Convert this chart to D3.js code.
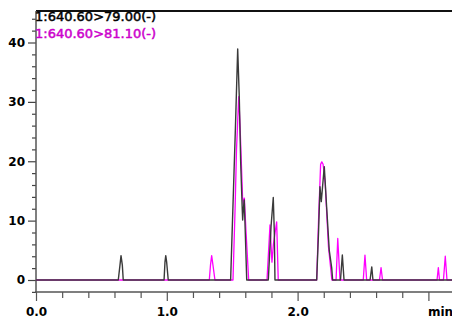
<!DOCTYPE html>
<html>
<head>
<meta charset="utf-8">
<script src="https://cdn.jsdelivr.net/npm/d3@7"></script>
<style>
  html, body { margin: 0; padding: 0; background: #fff; }
  svg { display: block; }
</style>
</head>
<body>
<svg id="chart" width="452" height="322"></svg>
<script>
// ---- Data ----
const legendLabels = ["1:640.60>79.00(-)", "1:640.60>81.10(-)"];
const xTickLabels = ["0.0", "1.0", "2.0"];
const xUnitLabel = "min";
const yTickLabels = [0, 10, 20, 30, 40];

// Trace 1 (black): 640.60 > 79.00
const blackTimes = [0.000,
  0.629, 0.642, 0.650, 0.660, 0.667,
  0.979, 0.986, 0.992, 0.999, 1.011,
  1.488, 1.508, 1.524, 1.542, 1.554, 1.565, 1.577, 1.580, 1.586, 1.592, 1.600, 1.611,
  1.776, 1.797, 1.814, 1.822, 1.827,
  2.146, 2.160, 2.171, 2.181, 2.204, 2.222, 2.242, 2.261, 2.268,
  2.328, 2.342, 2.355,
  2.554, 2.567, 2.576,
  3.200];
const blackValues = [0,
  0, 2.5, 4.1, 2.5, 0,
  0, 3.0, 4.1, 3.0, 0,
  0, 14.0, 25.2, 38.9, 30.9, 19.7, 11.8, 10.1, 12.0, 13.5, 8.0, 0,
  0, 9.0, 13.9, 8.0, 0,
  0, 8.0, 15.7, 13.2, 19.1, 12.3, 5.0, 2.0, 0,
  0, 4.2, 0,
  0, 2.2, 0,
  0];

// Trace 2 (magenta): 640.60 > 81.10
const magentaTimes = [0.000,
  1.325, 1.334, 1.343, 1.353, 1.368,
  1.506, 1.522, 1.533, 1.550, 1.560, 1.570, 1.579, 1.587, 1.593, 1.606, 1.626,
  1.766, 1.789, 1.804, 1.815, 1.840, 1.852,
  2.146, 2.160, 2.176, 2.185, 2.195, 2.211, 2.224, 2.236, 2.262,
  2.294, 2.307, 2.324,
  2.502, 2.515, 2.528,
  2.626, 2.638, 2.649,
  3.066, 3.076, 3.085,
  3.115, 3.129, 3.142,
  3.200];
const magentaValues = [0,
  0, 2.5, 4.1, 2.5, 0,
  0, 12.0, 22.0, 30.9, 26.0, 19.7, 14.0, 12.5, 13.8, 8.0, 0,
  0, 9.3, 3.0, 6.0, 9.8, 0,
  0, 10.0, 19.5, 19.9, 19.5, 16.3, 10.7, 5.6, 0,
  0, 7.0, 0,
  0, 4.2, 0,
  0, 2.1, 0,
  0, 2.1, 0,
  0, 4.0, 0,
  0];

// ---- Layout ----
const svg = d3.select("#chart");
const W = 452, H = 322;
const x = d3.scaleLinear().domain([0, 3]).range([36, 428.4]);
const y = d3.scaleLinear().domain([0, 40]).range([280, 42.5]);
const plotTop = 11, plotBottom = 292, plotLeft = 36, plotRight = W;

const font = "DejaVu Sans, Arial, sans-serif";

// clip
svg.append("defs").append("clipPath").attr("id", "clip")
  .append("rect").attr("x", plotLeft).attr("y", plotTop)
  .attr("width", plotRight - plotLeft).attr("height", plotBottom - plotTop);

// top border
svg.append("line").attr("x1", plotLeft).attr("x2", plotRight)
  .attr("y1", plotTop).attr("y2", plotTop)
  .attr("stroke", "#111").attr("stroke-width", 2);

// ---- Y axis ----
const yMinor = d3.range(-2, 45, 2).filter(v => v % 10 !== 0);
const yAxisMajor = d3.axisLeft(y).tickValues(yTickLabels).tickSize(8).tickPadding(3)
  .tickFormat(d3.format("d"));
const yAxisMinor = d3.axisLeft(y).tickValues(yMinor).tickSize(4).tickFormat("");

const gyMinor = svg.append("g").attr("transform", `translate(${plotLeft},0)`).call(yAxisMinor);
const gy = svg.append("g").attr("transform", `translate(${plotLeft},0)`).call(yAxisMajor);
[gy, gyMinor].forEach(g => {
  g.select(".domain").remove();
  g.selectAll(".tick line").attr("stroke", "#444").attr("stroke-width", 1.2);
});
gy.selectAll(".tick text")
  .attr("font-family", font).attr("font-weight", "bold").attr("font-size", 12)
  .attr("fill", "#000").attr("x", -11);
// y axis line
svg.append("line").attr("x1", plotLeft).attr("x2", plotLeft)
  .attr("y1", plotTop).attr("y2", plotBottom)
  .attr("stroke", "#555").attr("stroke-width", 1.5);

// ---- X axis ----
const xMajor = [0, 1, 2, 3];
const xMinor = d3.range(0.2, 3.19, 0.2).filter(v => Math.abs(v - Math.round(v)) > 1e-6);
const xAxisMajor = d3.axisBottom(x).tickValues(xMajor).tickSize(9)
  .tickFormat((d, i) => i < xTickLabels.length ? xTickLabels[i] : "");
const xAxisMinor = d3.axisBottom(x).tickValues(xMinor).tickSize(6).tickFormat("");
const gxMinor = svg.append("g").attr("transform", `translate(0,${plotBottom})`).call(xAxisMinor);
const gx = svg.append("g").attr("transform", `translate(0,${plotBottom})`).call(xAxisMajor);
[gx, gxMinor].forEach(g => {
  g.select(".domain").remove();
  g.selectAll(".tick line").attr("stroke", "#555").attr("stroke-width", 1.2);
});
gx.selectAll(".tick text")
  .attr("font-family", font).attr("font-weight", "bold").attr("font-size", 12)
  .attr("fill", "#000").attr("y", 15).attr("dy", "0.71em");
svg.append("line").attr("x1", plotLeft - 1).attr("x2", plotRight)
  .attr("y1", plotBottom).attr("y2", plotBottom)
  .attr("stroke", "#555").attr("stroke-width", 1.5);
svg.append("text").attr("x", x(3) - 0.5).attr("y", 316)
  .attr("font-family", font).attr("font-weight", "bold").attr("font-size", 12)
  .attr("fill", "#000").text(xUnitLabel);

// ---- Traces ----
const line = d3.line().x(d => x(d[0])).y(d => y(d[1]));
const magenta = magentaTimes.map((t, i) => [t, magentaValues[i]]);
const black = blackTimes.map((t, i) => [t, blackValues[i]]);
const traces = svg.append("g").attr("clip-path", "url(#clip)");
traces.append("path").datum(magenta).attr("d", line)
  .attr("fill", "none").attr("stroke", "#ff00ff").attr("stroke-width", 1.3)
  .attr("stroke-linejoin", "round");
traces.append("path").datum(black).attr("d", line)
  .attr("fill", "none").attr("stroke", "#3a3a3a").attr("stroke-width", 1.4)
  .attr("stroke-linejoin", "round");

// ---- Legend ----
svg.append("text").attr("x", 35).attr("y", 21)
  .attr("font-family", font).attr("font-size", 13).attr("fill", "#000")
  .attr("stroke", "#000").attr("stroke-width", 0.5)
  .text(legendLabels[0]);
svg.append("text").attr("x", 35).attr("y", 37.5)
  .attr("font-family", font).attr("font-size", 13).attr("fill", "#cc00cc")
  .attr("stroke", "#cc00cc").attr("stroke-width", 0.5)
  .text(legendLabels[1]);
</script>
</body>
</html>
